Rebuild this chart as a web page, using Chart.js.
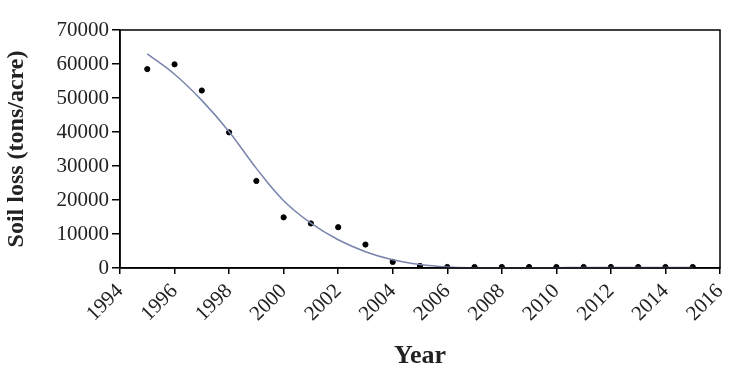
<!DOCTYPE html>
<html><head><meta charset="utf-8">
<script src="https://cdn.jsdelivr.net/npm/chart.js@4"></script>
<style>html,body{margin:0;padding:0;background:#fff}#wrap{width:750px;height:373px}</style>
</head><body><div id="wrap"><canvas id="c" width="750" height="373"></canvas></div>
<script>
const years = [1995,1996,1997,1998,1999,2000,2001,2002,2003,2004,2005,2006,2007,2008,2009,2010,2011,2012,2013,2014,2015];
const soilLoss = [58500,59900,52200,39900,25600,14900,13100,12000,6900,1800,600,300,300,300,300,300,300,300,300,300,300];
const fitYears = [1995,1996,1997,1998,1999,2000,2001,2002,2003,2004,2005,2006,2007,2008,2009,2010,2011,2012,2013,2014,2015];
const fitValues = [63000,57000,49300,40100,29300,19800,13200,8300,4800,2400,1000,300,80,80,80,80,150,150,150,150,150];
const yTicks = [0,10000,20000,30000,40000,50000,60000,70000];
const xTicks = [1994,1996,1998,2000,2002,2004,2006,2008,2010,2012,2014,2016];

const frame = {id:'frame', afterDraw(chart){const a=chart.chartArea,c=chart.ctx;c.save();c.strokeStyle='#000';c.lineWidth=1.5;c.strokeRect(a.left,a.top,a.right-a.left,a.bottom-a.top);c.restore();}};

new Chart(document.getElementById('c'), {
  type:'scatter',
  data:{datasets:[
    {label:'fit', type:'line', data: fitYears.map((x,i)=>({x, y: fitValues[i]})), borderColor:'#7a84ad', borderWidth:1.5, pointRadius:0, tension:0.4, fill:false},
    {label:'obs', data: years.map((x,i)=>({x, y: soilLoss[i]})), backgroundColor:'#000', borderColor:'#000', pointRadius:2.6}
  ]},
  plugins:[frame],
  options:{
    responsive:false, animation:false, devicePixelRatio:1,
    layout:{padding:{top:30,right:30,left:0,bottom:0}},
    plugins:{legend:{display:false},tooltip:{enabled:false}},
    scales:{
      x:{type:'linear', min:1994, max:2016,
        afterBuildTicks(s){s.ticks = xTicks.map(v=>({value:v}));},
        afterFit(s){s.height = 105;},
        grid:{drawOnChartArea:false, tickLength:6, color:'#000', lineWidth:1.5},
        border:{color:'#000', width:1.5},
        ticks:{color:'#222', font:{family:'Liberation Serif', size:21}, maxRotation:45, minRotation:45, padding:5, callback:v=>String(v)},
        title:{display:true, text:'Year', color:'#222', font:{family:'Liberation Serif', size:26, weight:'bold'}, padding:{top:0,bottom:1}}
      },
      y:{min:0, max:70000,
        afterBuildTicks(s){s.ticks = yTicks.map(v=>({value:v}));},
        afterFit(s){s.width = 120;},
        grid:{drawOnChartArea:false, tickLength:8, color:'#000', lineWidth:1.5},
        border:{color:'#000', width:1.5},
        ticks:{color:'#222', font:{family:'Liberation Serif', size:21}, padding:3, callback:v=>String(v)},
        title:{display:true, text:'Soil loss (tons/acre)', color:'#222', font:{family:'Liberation Serif', size:24, weight:'bold'}, padding:{top:2,bottom:2}}
      }
    }
  }
});
</script></body></html>
